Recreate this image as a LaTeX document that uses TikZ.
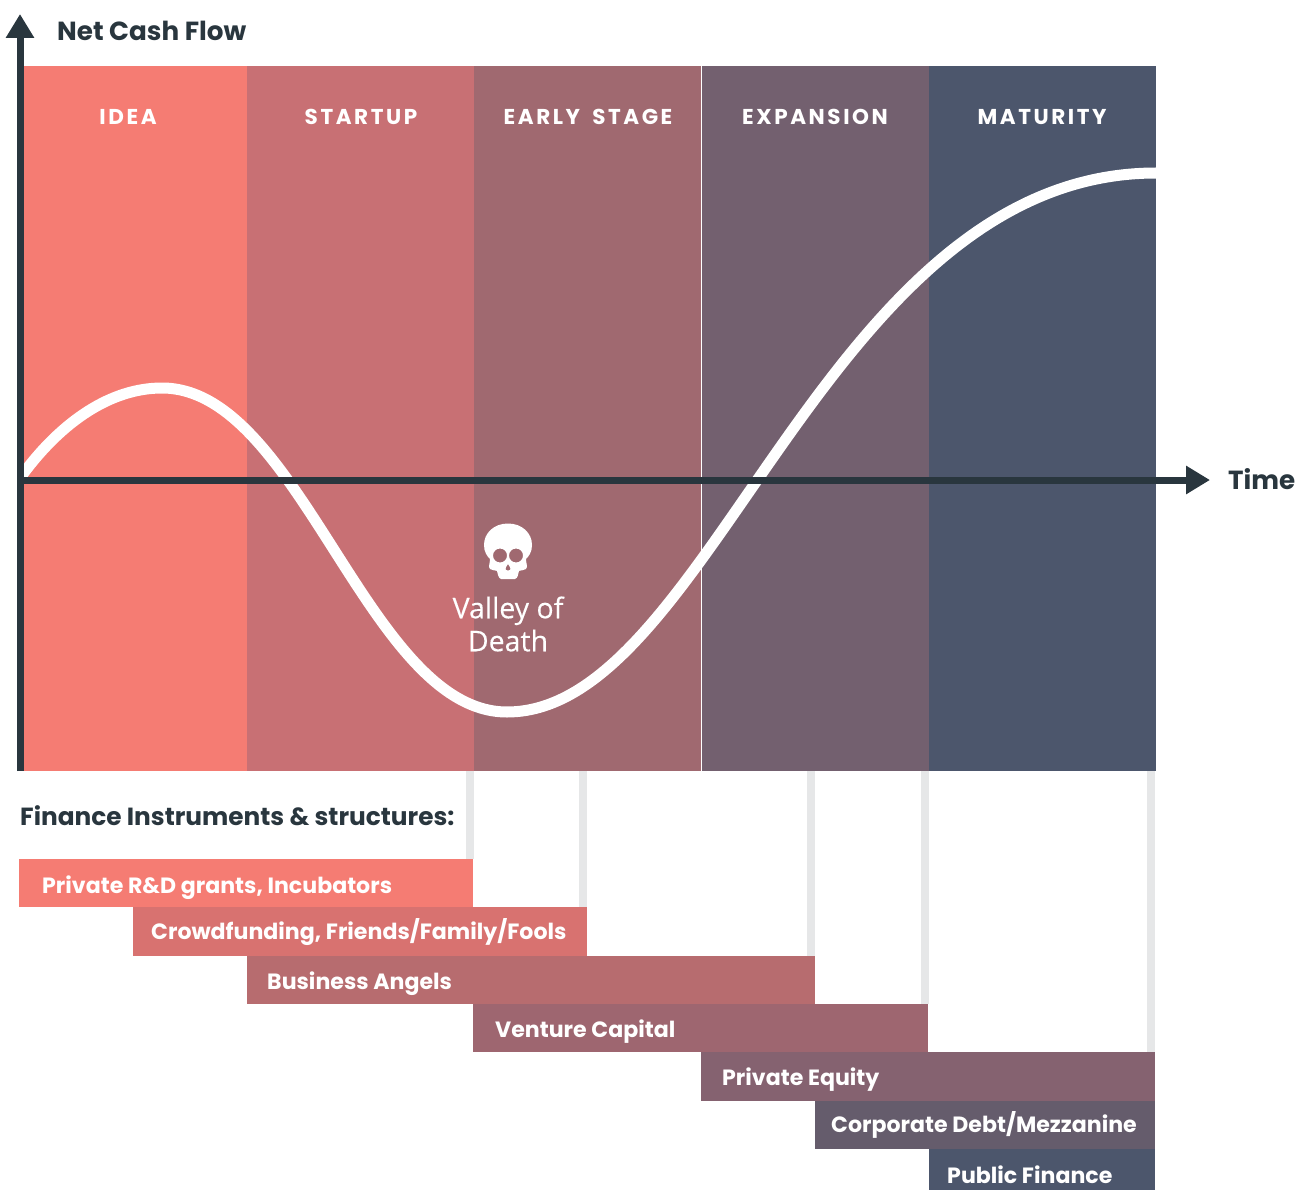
\documentclass[tikz,border=0pt]{standalone}
\usepackage{fontspec}
\setmainfont{Poppins}
\newfontfamily\opensans[FakeBold=0.2]{Open Sans}
\usetikzlibrary{arrows.meta}
\definecolor{cIdea}{HTML}{F57C73}
\definecolor{cStart}{HTML}{C87074}
\definecolor{cEarly}{HTML}{A06970}
\definecolor{cExp}{HTML}{73606F}
\definecolor{cMat}{HTML}{4C566C}
\definecolor{cAxis}{HTML}{29363E}
\definecolor{cGuide}{HTML}{E6E7E8}
\definecolor{bB}{HTML}{D87270}
\definecolor{bC}{HTML}{B76C6F}
\definecolor{bD}{HTML}{9E6670}
\definecolor{bE}{HTML}{856270}
\definecolor{bF}{HTML}{655C6C}
\tikzset{
  x=1pt,y=-1pt,
  stage/.style={font=\bfseries\fontsize{21.5}{21.5}\selectfont,text=white,inner sep=0pt,anchor=center},
  axislabel/.style={font=\fontsize{26.2}{26.2}\selectfont\bfseries,text=cAxis,inner sep=0pt},
  barlabel/.style={font=\fontsize{22.1}{22.1}\selectfont\bfseries,text=white,inner sep=0pt,anchor=base west},
  guide/.style={cGuide,line width=8pt},
  axisline/.style={cAxis,line width=7pt,-{Triangle[length=24pt,width=27pt]}},
  curve/.style={white,line width=11pt},
}
\begin{document}
\begin{tikzpicture}
\useasboundingbox (0,0) rectangle (1306,1190);
% stages
\fill[cIdea] (23,66) rectangle (247,771);
\fill[cStart] (247,66) rectangle (474,771);
\fill[cEarly] (474,66) rectangle (701,771);
\fill[cExp] (702,66) rectangle (929,771);
\fill[cMat] (929,66) rectangle (1156,771);
\node[stage] (sIdea) at (128,117) {\addfontfeature{LetterSpace=12}IDEA};
\node[stage] (sStart) at (361,117) {\addfontfeature{LetterSpace=12}STARTUP};
\node[stage] (sEarly) at (588,117) {\addfontfeature{LetterSpace=12}EARLY\hspace{5pt} STAGE};
\node[stage] (sExp) at (815,117) {\addfontfeature{LetterSpace=12}EXPANSION};
\node[stage] (sMat) at (1042,117) {\addfontfeature{LetterSpace=12}MATURITY};
% curve
\begin{scope}
\clip (20,0) rectangle (1156,1190);
\draw[curve] (20,478) .. controls (62,420) and (112,388) .. (162,388)
  .. controls (300,388) and (368,712) .. (507,712)
  .. controls (711,712) and (824,173) .. (1156,173);
\end{scope}
% axes
\coordinate (o) at (20,480);
\coordinate (yb) at (20,771);
\coordinate (yt) at (20,14);
\coordinate (xt) at (1210,480);
\draw[axisline] (yb) -- (yt);
\draw[axisline] (o) -- (xt);
\node[axislabel,anchor=base west] (ncf) at (57,40.5) {Net Cash Flow};
\node[axislabel,anchor=base west] (time) at (1228,489) {Time};
% skull
\fill[white,even odd rule]
  (508,523.5) .. controls (494,523.5) and (484,533) .. (484,545)
  .. controls (484,552) and (487,556) .. (490,559)
  .. controls (490,563) and (488,567) .. (490,569)
  .. controls (492,571) and (496,570) .. (497,571)
  .. controls (498,574) and (498,578) .. (501,579)
  -- (515,579)
  .. controls (518,578) and (518,574) .. (519,571)
  .. controls (520,570) and (524,571) .. (526,569)
  .. controls (528,567) and (526,563) .. (526,559)
  .. controls (529,556) and (532,552) .. (532,545)
  .. controls (532,533) and (522,523.5) .. cycle
  (500,555.5) circle[radius=7]
  (516,555.5) circle[radius=7]
  (508,564) .. controls (509.5,566) and (510.5,568) .. (510.5,569)
  .. controls (510.5,571) and (505.5,571) .. (505.5,569)
  .. controls (505.5,568) and (506.5,566) .. cycle;
\node[font=\opensans\fontsize{28.5}{33}\selectfont,text=white,align=center,inner sep=0pt] (valley) at (508,624) {Valley of\\Death};
% section title
\node[font=\fontsize{24.8}{25}\selectfont\bfseries,text=cAxis,inner sep=0pt,anchor=base west] (fin) at (20,825) {Finance Instruments \& structures:};
% guides
\coordinate (g1t) at (470,771); \coordinate (g1b) at (470,859);
\coordinate (g2t) at (583,771); \coordinate (g2b) at (583,907);
\coordinate (g3t) at (811,771); \coordinate (g3b) at (811,956);
\coordinate (g4t) at (925,771); \coordinate (g4b) at (925,1004);
\coordinate (g5t) at (1151,771); \coordinate (g5b) at (1151,1052);
\draw[guide] (g1t) -- (g1b);
\draw[guide] (g2t) -- (g2b);
\draw[guide] (g3t) -- (g3b);
\draw[guide] (g4t) -- (g4b);
\draw[guide] (g5t) -- (g5b);
% bars
\fill[cIdea] (19,859) rectangle (473,907);
\fill[bB] (133,907) rectangle (587,956);
\fill[bC] (247,956) rectangle (815,1004);
\fill[bD] (473,1004) rectangle (928,1052);
\fill[bE] (701,1052) rectangle (1155,1101);
\fill[bF] (815,1101) rectangle (1155,1149);
\fill[cMat] (929,1149) rectangle (1155,1190);
\node[barlabel] (b1) at (42,893) {Private R\&D grants, Incubators};
\node[barlabel] (b2) at (151,939) {Crowdfunding, Friends/Family/Fools};
\node[barlabel] (b3) at (267,989) {Business Angels};
\node[barlabel] (b4) at (495,1037) {Venture Capital};
\node[barlabel] (b5) at (722,1085) {Private Equity};
\node[barlabel] (b6) at (831,1132) {Corporate Debt/Mezzanine};
\node[barlabel] (b7) at (947,1183) {Public Finance};
\end{tikzpicture}
\end{document}
